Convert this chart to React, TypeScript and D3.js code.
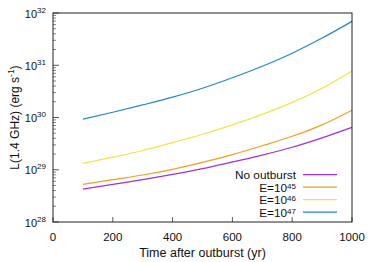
import React from 'react';
import * as d3 from 'd3';

// time after outburst (yr)
const years = [100, 200, 300, 400, 500, 600, 700, 800, 900, 1000];

// L(1.4 GHz) in erg/s
const noOutburst = [4.27e28, 5.25e28, 6.46e28, 8.13e28, 1.05e29, 1.41e29, 1.91e29, 2.69e29, 4.07e29, 6.46e29];
const e45 = [5.25e28, 6.46e28, 7.94e28, 1.02e29, 1.38e29, 1.95e29, 2.88e29, 4.37e29, 7.24e29, 1.38e30];
const e46 = [1.32e29, 1.74e29, 2.34e29, 3.31e29, 4.79e29, 7.24e29, 1.15e30, 1.95e30, 3.63e30, 7.76e30];
const e47 = [9.33e29, 1.26e30, 1.74e30, 2.45e30, 3.63e30, 5.75e30, 9.55e30, 1.7e31, 3.31e31, 6.92e31];

const xTicks = [0, 200, 400, 600, 800, 1000];
const yDecades = [28, 29, 30, 31, 32];

const seriesNames = ['No outburst', 'E=10|45', 'E=10|46', 'E=10|47'];
const seriesData = [noOutburst, e45, e46, e47];
const seriesColors = ['#a030e0', '#eea020', '#f2e448', '#2088c8'];

const W = 374;
const H = 262;
const margin = { left: 53, right: 22, top: 13, bottom: 40 };
const FONT = '"Liberation Sans", Arial, Helvetica, sans-serif';

export default function App() {
  const x = d3.scaleLinear().domain([0, 1000]).range([margin.left, W - margin.right]);
  const y = d3.scaleLog().domain([1e28, 1e32]).range([H - margin.bottom, margin.top]);

  const line = d3.line<[number, number]>()
    .x(d => x(d[0]))
    .y(d => y(d[1]))
    .curve(d3.curveMonotoneX);

  const minor: number[] = [];
  yDecades.slice(0, -1).forEach(p => {
    for (let m = 2; m <= 9; m++) minor.push(m * Math.pow(10, p));
  });

  const x0 = x(0), x1 = x(1000), y0 = y(1e28), y1 = y(1e32);

  // legend placement
  const legTextX = 296;
  const legLineX = [303, 337];
  const legY0 = 174.7;
  const legStep = 12.5;

  return (
    <svg width={W} height={H} style={{ position: 'absolute', left: 0, top: 0, background: '#fff' }}
      fontFamily={FONT}>
      {/* series */}
      {seriesData.map((s, i) => (
        <path key={i} d={line(years.map((t, j) => [t, s[j]] as [number, number])) || ''}
          fill="none" stroke={seriesColors[i]} strokeWidth={1.2} />
      ))}

      {/* y ticks */}
      {minor.map((v, i) => (
        <line key={'m' + i} x1={x0} x2={x0 + 3} y1={y(v)} y2={y(v)} stroke="#333" strokeWidth={0.6} />
      ))}
      {yDecades.map(p => (
        <g key={p}>
          <line x1={x0} x2={x0 + 6} y1={y(Math.pow(10, p))} y2={y(Math.pow(10, p))} stroke="#333" strokeWidth={0.8} />
          <text x={46} y={y(Math.pow(10, p)) + 4.5} textAnchor="end" fontSize={11} fill="#111">
            10<tspan fontSize={8} dy={-5}>{p}</tspan>
          </text>
        </g>
      ))}

      {/* x ticks */}
      {xTicks.map(t => (
        <g key={t}>
          <line x1={x(t)} x2={x(t)} y1={y0} y2={y0 - 5} stroke="#333" strokeWidth={0.8} />
          <text x={x(t)} y={y0 + 18.5} textAnchor="middle" fontSize={11.5} fill="#111">{t}</text>
        </g>
      ))}

      {/* frame */}
      <rect x={x0} y={y1} width={x1 - x0} height={y0 - y1} fill="none" stroke="#222" strokeWidth={1} />

      {/* axis titles */}
      <text x={(x0 + x1) / 2} y={257} textAnchor="middle" fontSize={12.5} fill="#111">Time after outburst (yr)</text>
      <text transform={`translate(18.5,${(y0 + y1) / 2}) rotate(-90)`} textAnchor="middle" fontSize={12} fill="#111">
        L(1.4 GHz) (erg s<tspan fontSize={8.5} dy={-5}>-1</tspan><tspan dy={5}>)</tspan>
      </text>

      {/* legend */}
      {seriesNames.map((n, i) => {
        const ly = legY0 + i * legStep;
        const [base, sup] = n.split('|');
        return (
          <g key={n}>
            <text x={legTextX} y={ly + 4.6} textAnchor="end" fontSize={11.8} fill="#111">
              {base}{sup ? <tspan fontSize={8} dy={-3.2}>{sup}</tspan> : null}
            </text>
            <line x1={legLineX[0]} x2={legLineX[1]} y1={ly} y2={ly} stroke={seriesColors[i]} strokeWidth={1.2} />
          </g>
        );
      })}
    </svg>
  );
}
